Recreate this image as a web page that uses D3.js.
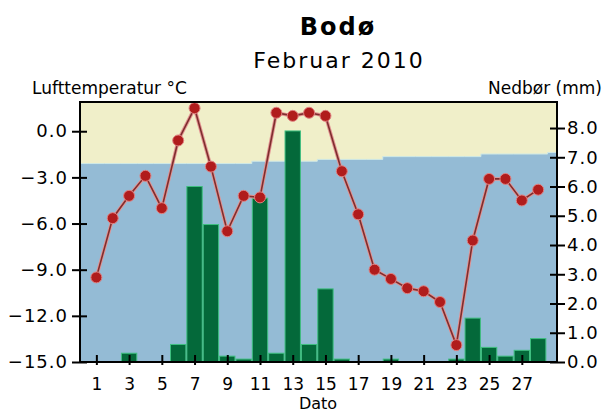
<!DOCTYPE html>
<html>
<head>
<meta charset="utf-8">
<script src="https://cdn.jsdelivr.net/npm/d3@7"></script>
<style>
  body { margin: 0; background: #fff; }
  svg text { font-family: "DejaVu Sans", Verdana, sans-serif; fill: #000; }
</style>
</head>
<body>
<svg width="605" height="412"></svg>
<script>
// Bodø, februar 2010
var days = d3.range(1, 29);
var temperature = [-9.5, -5.65, -4.2, -2.9, -5.0, -0.6, 1.5, -2.3, -6.5, -4.2,
                   -4.3, 1.2, 1.0, 1.2, 1.0, -2.6, -5.4, -9.0, -9.6, -10.2,
                   -10.4, -11.1, -13.9, -7.1, -3.1, -3.1, -4.5, -3.8];
var precipitation = [0, 0, 0.3, 0, 0, 0.6, 6.0, 4.7, 0.2, 0.1,
                     5.6, 0.3, 7.9, 0.6, 2.5, 0.1, 0, 0, 0.1, 0,
                     0, 0, 0.1, 1.5, 0.5, 0.2, 0.4, 0.8];
// normal temperature (background split)
var normal = [-2.1, -2.1, -2.1, -2.1, -2.1, -2.1, -2.1, -2.1, -2.1, -2.1,
              -1.95, -1.95, -1.95, -1.95, -1.83, -1.83, -1.83, -1.83, -1.65, -1.65,
              -1.65, -1.65, -1.65, -1.65, -1.48, -1.48, -1.48, -1.48];
var normalEnd = -1.38;
var tempTicks = [0, -3, -6, -9, -12, -15];
var precTicks = [0, 1, 2, 3, 4, 5, 6, 7, 8];
var dayTicks = [1, 3, 5, 7, 9, 11, 13, 15, 17, 19, 21, 23, 25, 27];

var svg = d3.select("svg");
var pLeft = 80, pRight = 557, pTop = 102, pBottom = 362;

var x = d3.scaleLinear().domain([0, 29.15]).range([pLeft, pRight]);
var yT = d3.scaleLinear().domain([-15, 1.9]).range([pBottom, pTop]);
var yP = d3.scaleLinear().domain([0, 8.89]).range([pBottom, pTop]);
var dayW = x(1) - x(0);

// titles
svg.append("text").attr("x", 338).attr("y", 35).attr("text-anchor", "middle")
    .style("font-size", "24px").style("font-weight", "bold").style("letter-spacing", "2px")
    .text("Bodø");
svg.append("text").attr("x", 339).attr("y", 68).attr("text-anchor", "middle")
    .style("font-size", "22px").style("letter-spacing", "2px")
    .text("Februar 2010");
svg.append("text").attr("x", 32).attr("y", 94)
    .style("font-size", "17px")
    .text("Lufttemperatur °C");
svg.append("text").attr("x", 602).attr("y", 94).attr("text-anchor", "end")
    .style("font-size", "17px")
    .text("Nedbør (mm)");

// background
svg.append("rect").attr("x", pLeft).attr("y", pTop)
    .attr("width", pRight - pLeft).attr("height", pBottom - pTop)
    .attr("fill", "#f0efc9");

var normalPts = [[0, normal[0]]]
    .concat(days.map(function(d, i) { return [d, normal[i]]; }))
    .concat([[29.15, normalEnd]]);

svg.append("path")
    .datum(normalPts)
    .attr("fill", "#94bbd5")
    .attr("d", d3.area()
        .curve(d3.curveStep)
        .x(function(d) { return x(d[0]); })
        .y0(pBottom)
        .y1(function(d) { return yT(d[1]); }));

svg.append("path")
    .datum(normalPts)
    .attr("fill", "none")
    .attr("stroke", "#cfe9e6")
    .attr("stroke-width", 1)
    .attr("d", d3.line()
        .curve(d3.curveStep)
        .x(function(d) { return x(d[0]); })
        .y(function(d) { return yT(d[1]); }));

// precipitation bars
svg.append("g")
    .selectAll("rect")
    .data(days.filter(function(d, i) { return precipitation[i] > 0; }))
    .enter().append("rect")
    .attr("x", function(d) { return x(d - 0.5) + 0.5; })
    .attr("width", dayW - 1)
    .attr("y", function(d) { return yP(precipitation[d - 1]); })
    .attr("height", function(d) { return pBottom - yP(precipitation[d - 1]); })
    .attr("fill", "#04693a")
    .attr("stroke", "#3fbf80")
    .attr("stroke-width", 1);

// temperature line
var tLine = d3.line()
    .x(function(d, i) { return x(days[i]); })
    .y(function(d) { return yT(d); });

svg.append("path").datum(temperature)
    .attr("fill", "none").attr("stroke", "#e39292").attr("stroke-width", 3.5)
    .attr("d", tLine);
svg.append("path").datum(temperature)
    .attr("fill", "none").attr("stroke", "#7e2e2e").attr("stroke-width", 1.6)
    .attr("d", tLine);

svg.append("g")
    .selectAll("circle")
    .data(temperature)
    .enter().append("circle")
    .attr("cx", function(d, i) { return x(days[i]); })
    .attr("cy", function(d) { return yT(d); })
    .attr("r", 5.5)
    .attr("fill", "#b01c1c")
    .attr("stroke", "#e08080")
    .attr("stroke-width", 1);

// frame
svg.append("line").attr("x1", pLeft).attr("x2", pRight).attr("y1", pTop).attr("y2", pTop)
    .attr("stroke", "#000").attr("stroke-width", 2);

// axes
var axL = svg.append("g").attr("transform", "translate(" + pLeft + ",0)")
    .call(d3.axisLeft(yT).tickValues(tempTicks).tickSize(8).tickPadding(4)
        .tickFormat(d3.format(".1f")));
axL.selectAll(".tick line").attr("x1", 7);

var axR = svg.append("g").attr("transform", "translate(" + pRight + ",0)")
    .call(d3.axisRight(yP).tickValues(precTicks).tickSize(8).tickPadding(2)
        .tickFormat(d3.format(".1f")));
axR.selectAll(".tick line").attr("x1", -7);

var axB = svg.append("g").attr("transform", "translate(0," + pBottom + ")")
    .call(d3.axisBottom(x).tickValues(dayTicks).tickSize(3).tickPadding(13));
axB.selectAll(".tick line").attr("y1", -7);

[axL, axR, axB].forEach(function(a) {
  a.selectAll(".domain").remove();
  a.selectAll(".tick line").attr("stroke", "#000").attr("stroke-width", 2);
  a.selectAll("text").style("font-size", "18px").attr("fill", "#000")
      .style("font-family", "DejaVu Sans, Verdana, sans-serif");
});
axB.selectAll("text").style("font-size", "17px");
axL.selectAll("text").style("letter-spacing", "1px");
axR.selectAll("text").style("letter-spacing", "1px");

svg.append("line").attr("x1", pLeft).attr("x2", pLeft).attr("y1", pTop - 1).attr("y2", pBottom + 1)
    .attr("stroke", "#000").attr("stroke-width", 2);
svg.append("line").attr("x1", pRight).attr("x2", pRight).attr("y1", pTop - 1).attr("y2", pBottom + 1)
    .attr("stroke", "#000").attr("stroke-width", 2);
svg.append("line").attr("x1", pLeft - 1).attr("x2", pRight + 1).attr("y1", pBottom).attr("y2", pBottom)
    .attr("stroke", "#000").attr("stroke-width", 2);

svg.append("text").attr("x", 318).attr("y", 409).attr("text-anchor", "middle")
    .style("font-size", "16px")
    .text("Dato");
</script>
</body>
</html>
